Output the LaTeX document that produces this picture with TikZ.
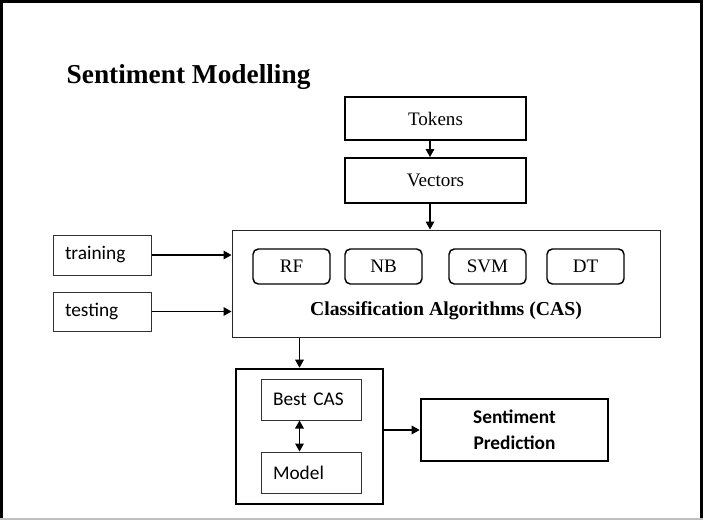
\documentclass[tikz,border=0pt]{standalone}
\usepackage{fontspec}
\setmainfont{Liberation Serif}
\newfontfamily\carlito{Carlito}
\usetikzlibrary{arrows.meta}
\begin{document}
\begin{tikzpicture}[x=0.75pt,y=-0.75pt,
  serifbox/.style={draw=black, line width=1.5pt, inner sep=0pt, font=\fontsize{14.3}{16}\selectfont},
  algbox/.style={draw=black, rounded corners=4pt, line width=1.1pt, inner sep=0pt, minimum width=57.75pt, minimum height=26.25pt, font=\fontsize{14.3}{16}\selectfont},
  databox/.style={draw=black!80, line width=0.75pt, inner xsep=9pt, inner ysep=0pt, align=left, font=\carlito\fontsize{14.5}{16}\selectfont},
  thickbox/.style={draw=black, line width=2pt, inner sep=0pt},
  arr/.style={-{Triangle[length=6pt,width=6.5pt]}, line width=0.8pt}]
\useasboundingbox (0,0) rectangle (703,522);
\draw[line width=2.25pt] (1.5,519) -- (1.5,1.5) -- (701.5,1.5) -- (701.5,519);
\draw[black!25, line width=1pt] (0,519) -- (703,519);
\node [anchor=base west, font=\bfseries\fontsize{20.5}{24}\selectfont] (title) at (62,83) {Sentiment Modelling};
\node [serifbox, minimum width=135.75pt, minimum height=32.25pt] (tok) at (435.5,118.5) {Tokens};
\node [serifbox, minimum width=135.75pt, minimum height=33.75pt] (vec) at (435.5,180.5) {Vectors};
\node [draw=black!85, line width=0.75pt, minimum width=321pt, minimum height=80.25pt, inner sep=0pt] (cas) at (446,283.5) {};
\node [algbox] (rf) at (291.5,266.5) {RF};
\node [algbox] (nb) at (383.5,266.5) {NB};
\node [algbox] (svm) at (487.5,266.5) {SVM};
\node [algbox] (dt) at (585.5,266.5) {DT};
\node [font=\bfseries\fontsize{14.8}{16}\selectfont] (caslabel) at (446,311) {Classification Algorithms (CAS)};
\node [databox, text width=55.5pt, minimum height=30pt] (train) at (102,255) {training};
\node [databox, text width=55.5pt, minimum height=29.25pt] (test) at (102,311.5) {testing};
\node [thickbox, minimum width=110.25pt, minimum height=101.25pt] (best) at (309.5,436.5) {};
\node [databox, text width=57pt, minimum height=30.75pt] (bcas) at (311,399.5) {Best CAS};
\node [databox, text width=57pt, minimum height=30.75pt] (model) at (311,472.5) {Model};
\node [thickbox, minimum width=140.25pt, minimum height=46.5pt, align=center, font=\carlito\bfseries\fontsize{14.5}{19.5}\selectfont] (pred) at (514.5,430) {Sentiment\\Prediction};
\coordinate (ax) at (430,0);
\coordinate (bx) at (299.5,0);
\draw [arr] (tok.south -| ax) -- (vec.north -| ax);
\draw [arr] (vec.south -| ax) -- (cas.north -| ax);
\draw [arr] (train.east) -- (cas.west |- train.east);
\draw [arr] (test.east) -- (cas.west |- test.east);
\draw [arr] (cas.south -| bx) -- (best.north -| bx);
\draw [arr, {Triangle[length=6pt,width=6.5pt]}-{Triangle[length=6pt,width=6.5pt]}] (bcas.south -| bx) -- (model.north -| bx);
\draw [arr] (best.east |- pred.west) -- (pred.west);
\end{tikzpicture}
\end{document}
